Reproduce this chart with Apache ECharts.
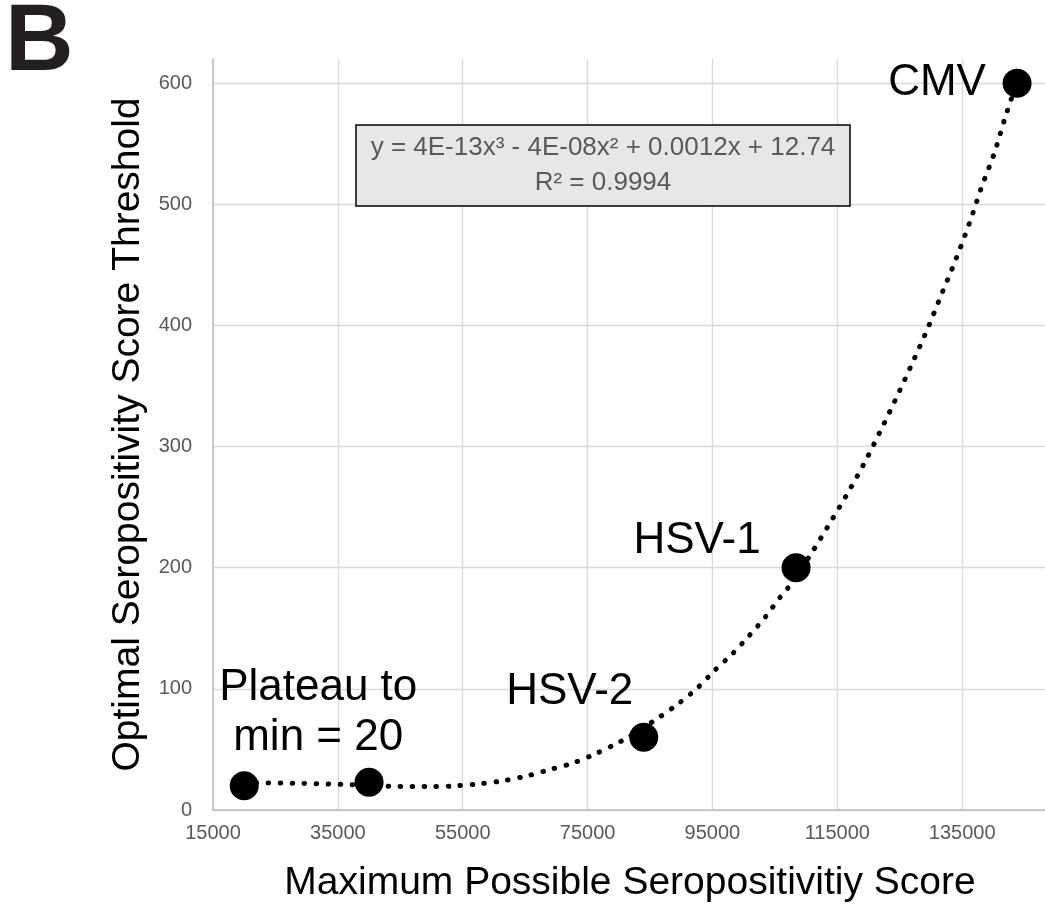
<!DOCTYPE html>
<html><head><meta charset="utf-8">
<script src="https://cdn.jsdelivr.net/npm/echarts@6/dist/echarts.min.js"></script>
<style>html,body{margin:0;padding:0;background:#fff}#c{width:1045px;height:905px}</style>
</head><body><div id="c"></div>
<script>
// ---- data ----
const pointNames = ['Plateau to\nmin = 20', '', 'HSV-2', 'HSV-1', 'CMV'];
const pointX = [20000, 40000, 84000, 108400, 143800];
const pointY = [20, 23, 60, 200, 600];

const trendX = [20000, 29000, 40000, 45000, 50000, 53500, 57500, 61300, 65200, 68700, 72500, 76100, 79700, 81500,
  86300, 89500, 92600, 95300, 98200, 100900, 103500, 105900, 107200, 110500, 113600, 116600, 119500, 122200,
  124800, 127200, 129600, 131800, 134100, 136200, 138100, 140200, 141900, 143800];
const trendY = [22.5, 22, 20.5, 19.3, 19.3, 19.8, 21.5, 24, 28, 33, 38.5, 46, 55, 60,
  76, 87.6, 100.8, 115, 129, 144, 159.5, 176, 184, 209, 235, 261, 288, 316,
  344, 371, 399, 427, 456, 485, 514, 543, 572, 601];

const xTicks = { min: 15000, max: 155000, step: 20000 };
const yTicks = { min: 0, max: 620, step: 100 };

const equationText = 'y = 4E-13x³ - 4E-08x² + 0.0012x + 12.74';
const r2Text = 'R² = 0.9994';
const xAxisTitle = 'Maximum Possible Seropositivitiy Score';
const yAxisTitle = 'Optimal Seropositivity Score Threshold';
const panelLetter = 'B';

// ---- styling ----
const FONT = '"Liberation Sans", Arial, Helvetica, sans-serif';
const labelOffsets = [[74, -73], [0, 0], [-74, -45], [-99, -27], [-80, 0]];

const chart = echarts.init(document.getElementById('c'), null, { renderer: 'canvas' });

const scatterData = pointX.map((x, i) => ({
  value: [x, pointY[i]],
  label: {
    show: pointNames[i] !== '',
    formatter: pointNames[i],
    position: 'inside',
    offset: labelOffsets[i]
  }
}));
const trendData = trendX.map((x, i) => [x, trendY[i]]);

chart.setOption({
  animation: false,
  backgroundColor: '#fff',
  grid: { left: 213, top: 59, width: 874, height: 751, containLabel: false, outerBoundsMode: 'none' },
  xAxis: {
    type: 'value', min: xTicks.min, max: xTicks.max, interval: xTicks.step,
    axisLine: { show: true, onZero: false, lineStyle: { color: '#bfbfbf', width: 1.5 } },
    axisTick: { show: false },
    splitLine: { show: true, lineStyle: { color: '#d9d9d9', width: 1.3 } },
    axisLabel: { color: '#595959', fontSize: 20, margin: 13, fontFamily: FONT, formatter: v => String(v) },
    name: xAxisTitle, nameLocation: 'middle', nameGap: 54,
    nameTextStyle: { fontSize: 39, color: '#000', fontFamily: FONT, padding: [0, 40, 0, 0] }
  },
  yAxis: {
    type: 'value', min: yTicks.min, max: yTicks.max, interval: yTicks.step,
    axisLine: { show: true, onZero: false, lineStyle: { color: '#bfbfbf', width: 1.5 } },
    axisTick: { show: false },
    splitLine: { show: true, showMaxLine: false, lineStyle: { color: '#d9d9d9', width: 1.3 } },
    axisLabel: { color: '#595959', fontSize: 20, margin: 21, fontFamily: FONT, showMaxLabel: false, formatter: v => String(v) },
    name: yAxisTitle, nameLocation: 'middle', nameGap: 58,
    nameTextStyle: { fontSize: 39, color: '#000', fontFamily: FONT }
  },
  series: [
    {
      type: 'line', data: trendData, smooth: 0.3, showSymbol: false, symbol: 'none',
      lineStyle: { color: '#000', width: 5, type: [0.5, 11.5], cap: 'round', opacity: 1 },
      z: 2, silent: true
    },
    {
      type: 'scatter', data: scatterData, symbol: 'circle', symbolSize: 29,
      itemStyle: { color: '#000', opacity: 1 },
      label: { color: '#000', fontSize: 44, fontFamily: FONT, lineHeight: 50, align: 'center' },
      z: 3
    }
  ],
  graphic: [
    { type: 'rect', shape: { x: 356, y: 125, width: 494, height: 81 },
      style: { fill: '#e7e7e7', stroke: '#000', lineWidth: 1.5 }, z: 10 },
    { type: 'text', x: 603, y: 148, z: 11,
      style: { text: equationText, fontSize: 26, fontFamily: FONT, fill: '#595959', align: 'center', verticalAlign: 'middle' } },
    { type: 'text', x: 603, y: 183, z: 11,
      style: { text: r2Text, fontSize: 26, fontFamily: FONT, fill: '#595959', align: 'center', verticalAlign: 'middle' } },
    { type: 'text', x: 5, y: 44, z: 11,
      style: { text: panelLetter, fontSize: 95, fontWeight: 'bold', fontFamily: FONT, fill: '#231f20', align: 'left', verticalAlign: 'middle' } }
  ]
});
</script>
</body></html>
